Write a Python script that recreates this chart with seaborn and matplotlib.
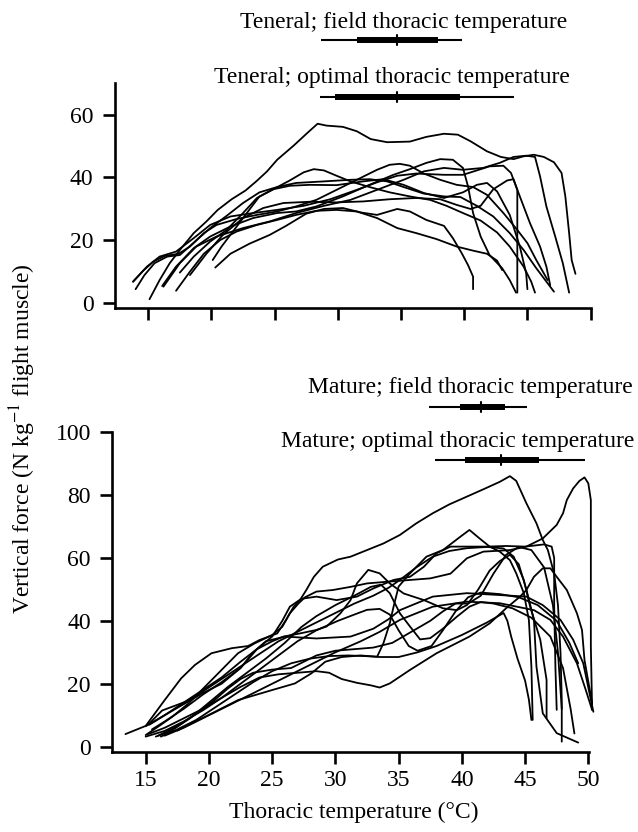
import matplotlib
matplotlib.use("Agg")
import matplotlib.pyplot as plt
import pandas as pd
import seaborn as sns

# teneral curves, (thoracic temperature, vertical force)
ten_a = [(15.1, 1.1), (15.9, 7.2), (16.7, 12.6), (17.5, 16.8), (18.6, 22.2), (19.6, 25.9), (20.5, 29.6),
         (21.6, 33.0), (22.7, 35.8), (23.6, 38.9), (24.4, 41.9), (25.2, 45.6), (26.5, 50.1), (27.6, 54.2),
         (28.4, 57.1), (29.1, 56.5), (30.4, 56.1), (31.5, 54.7), (32.6, 52.2), (33.9, 51.2), (35.7, 51.4),
         (37.0, 52.9), (38.4, 53.9), (39.5, 53.6), (40.5, 51.5), (41.8, 48.3), (42.9, 46.5), (43.9, 45.8),
         (44.7, 46.7), (45.5, 47.2), (46.3, 46.5), (47.1, 44.8), (47.7, 41.4), (48.0, 33.9), (48.3, 22.2),
         (48.5, 13.6), (48.8, 9.2)]
ten_b = [(20.3, 11.2), (21.5, 15.6), (23.0, 18.8), (24.6, 21.6), (25.9, 24.5), (27.5, 28.4), (28.9, 29.9),
         (30.4, 30.2), (31.8, 28.8), (33.1, 28.0), (34.7, 29.9), (35.7, 29.1), (37.0, 26.4), (38.4, 24.5),
         (39.1, 20.6), (39.8, 15.8), (40.3, 12.0), (40.7, 8.3), (40.7, 4.3)]
ten_c = [(17.2, 3.8), (18.3, 9.9), (19.4, 15.6), (20.7, 20.0), (22.0, 22.7), (23.6, 24.8), (25.2, 26.4),
         (26.7, 28.0), (28.3, 29.3), (29.9, 29.6), (31.5, 29.1), (33.1, 27.0), (34.7, 23.8), (36.2, 22.2),
         (37.8, 20.3), (39.4, 17.9), (40.7, 16.6), (41.8, 15.6), (42.6, 13.4), (43.0, 10.4)]
ten_d = [(18.3, 8.8), (19.6, 15.6), (20.9, 21.6), (22.5, 27.0), (24.1, 30.2), (25.7, 31.8), (27.8, 32.2),
         (29.9, 32.0), (32.0, 32.3), (34.1, 33.0), (36.2, 33.4), (38.1, 33.0), (39.4, 31.2), (40.5, 29.9),
         (41.3, 30.9), (42.3, 36.2), (43.4, 39.0), (43.9, 39.4), (44.2, 36.0), (44.2, 22.2), (44.2, 3.2)]
ten_e = [(16.1, 5.3), (17.2, 11.5), (18.6, 17.4), (19.9, 21.1), (21.5, 24.3), (23.3, 27.0), (25.2, 28.6),
         (26.7, 29.1), (28.3, 30.7), (30.4, 33.9), (32.5, 37.6), (34.4, 40.8), (35.7, 42.6), (37.0, 44.6),
         (38.1, 45.8), (39.1, 45.6), (39.9, 43.0), (40.3, 37.1), (40.7, 28.6), (41.3, 21.1), (42.0, 15.2),
         (43.0, 11.0), (43.6, 7.2), (44.1, 3.2)]
ten_f = [(13.8, 6.7), (14.6, 10.2), (15.4, 13.1), (16.3, 14.9), (17.4, 15.6), (18.3, 17.9), (19.4, 22.2),
         (20.4, 24.8), (22.0, 26.7), (23.6, 28.0), (25.2, 29.1), (26.7, 30.7), (28.3, 32.8), (29.9, 36.0),
         (31.5, 39.2), (33.1, 42.4), (34.1, 44.0), (34.9, 44.3), (35.7, 43.7), (36.8, 41.2), (38.1, 39.2),
         (39.4, 37.6), (40.7, 36.9), (41.8, 34.4), (43.1, 28.6), (44.2, 23.2), (45.0, 19.0), (45.7, 13.6),
         (46.6, 7.2)]
ten_g = [(17.5, 9.6), (18.6, 14.7), (19.9, 19.5), (21.2, 23.2), (22.5, 28.6), (23.6, 33.4), (24.9, 36.2),
         (26.2, 39.0), (27.3, 41.6), (28.1, 42.6), (28.9, 42.2), (29.9, 40.5), (31.0, 38.7), (32.5, 36.9),
         (34.1, 35.2), (35.7, 33.9), (37.3, 32.8), (38.6, 30.9), (39.9, 28.6), (41.3, 26.2), (42.6, 22.4),
         (43.6, 17.9), (44.7, 11.5), (45.3, 6.7), (45.6, 3.2)]
ten_h = [(14.0, 4.3), (14.7, 8.8), (15.5, 12.6), (16.5, 14.7), (17.5, 15.2), (18.7, 19.5), (19.9, 23.8),
         (21.2, 27.7), (22.5, 31.8), (23.8, 35.2), (25.2, 36.9), (26.7, 38.2), (28.9, 38.7), (31.0, 39.2),
         (32.5, 39.4), (33.9, 38.7), (35.2, 36.9), (36.8, 34.8), (38.4, 33.9), (39.7, 33.7), (41.0, 30.9),
         (42.3, 27.5), (43.6, 22.2), (44.7, 16.8), (45.7, 11.0), (47.1, 3.5)]
ten_i = [(20.1, 13.6), (20.8, 17.9), (21.7, 22.7), (22.8, 28.6), (23.8, 33.9), (24.9, 36.2), (26.2, 37.3),
         (27.8, 37.6), (29.9, 37.5), (32.0, 38.7), (33.6, 39.4), (35.2, 37.6), (36.8, 35.0), (38.4, 33.4),
         (39.9, 35.2), (41.0, 37.6), (41.8, 38.2), (42.6, 35.5), (43.6, 28.0), (44.4, 17.9), (44.9, 9.4),
         (45.0, 4.3)]
ten_j = [(13.8, 6.7), (14.9, 11.5), (15.9, 14.7), (17.2, 16.3), (18.6, 20.6), (19.9, 24.8), (21.5, 27.5),
         (23.3, 28.6), (25.2, 29.6), (27.3, 30.9), (29.4, 33.0), (31.5, 36.0), (33.1, 38.4), (34.7, 40.5),
         (36.2, 41.2), (38.4, 40.8), (39.9, 40.8), (41.0, 42.2), (42.0, 43.5), (43.1, 43.7), (43.7, 41.4),
         (44.4, 33.9), (45.2, 25.4), (46.0, 17.9), (46.5, 11.5), (46.8, 5.6)]
ten_k = [(16.2, 5.1), (17.5, 12.6), (18.8, 17.9), (20.4, 21.1), (22.5, 23.8), (24.6, 25.9), (26.7, 28.6),
         (28.9, 30.9), (31.0, 32.8), (33.1, 36.0), (35.2, 39.2), (36.8, 41.9), (38.4, 43.0), (39.9, 42.4),
         (41.5, 43.0), (42.8, 44.6), (43.9, 46.5), (44.9, 46.9), (45.6, 46.5), (46.0, 40.3), (46.5, 30.7),
         (47.2, 21.1), (47.8, 12.6), (48.3, 3.2)]

# mature curves
mat_a = [(13.4, 4.0), (15.0, 6.6), (16.5, 14.8), (17.8, 21.7), (18.9, 26.0), (20.2, 29.7), (21.8, 31.3),
         (23.1, 32.0), (24.0, 33.9), (25.4, 36.0), (26.1, 40.3), (26.7, 44.5), (27.2, 46.6), (27.7, 49.8),
         (28.3, 54.0), (29.0, 57.2), (30.2, 59.5), (31.2, 60.4), (32.5, 62.5), (33.8, 64.6), (35.1, 67.3),
         (36.4, 71.0), (37.7, 74.2), (39.0, 77.0), (40.4, 79.5), (41.8, 82.0), (43.0, 84.2), (43.8, 86.0),
         (44.3, 84.5), (45.1, 77.4), (45.9, 71.0), (46.4, 65.7), (46.8, 62.5), (47.3, 55.0), (47.6, 45.0),
         (47.8, 30.0), (47.9, 15.0), (47.9, 1.6)]
mat_b = [(15.0, 3.7), (16.0, 6.4), (17.1, 9.5), (18.4, 13.8), (19.7, 19.1), (21.0, 24.4), (22.3, 29.7),
         (23.6, 32.8), (25.0, 35.5), (25.8, 38.1), (26.4, 42.4), (27.1, 45.6), (27.6, 47.5), (28.5, 49.3),
         (29.8, 49.8), (31.2, 50.8), (32.5, 51.9), (34.3, 52.5), (35.9, 53.0), (37.5, 53.5), (39.1, 55.0),
         (40.4, 59.9), (41.7, 62.0), (43.8, 62.5), (45.1, 63.6), (46.4, 66.2), (47.5, 70.5), (48.0, 74.2),
         (48.3, 78.4), (48.8, 82.1), (49.3, 84.5), (49.7, 85.6), (50.0, 83.7), (50.2, 78.4), (50.2, 53.0),
         (50.2, 31.8), (50.3, 11.7)]
mat_c = [(16.2, 3.2), (17.5, 5.5), (19.0, 8.5), (20.5, 12.5), (22.0, 16.5), (23.5, 20.5), (25.0, 24.0),
         (26.5, 26.5), (28.0, 28.0), (29.5, 28.8), (31.0, 29.0), (32.3, 28.8), (33.3, 28.6), (33.8, 32.9),
         (34.3, 39.2), (34.6, 44.5), (35.0, 50.9), (35.9, 55.1), (37.2, 60.4), (38.5, 62.5), (39.9, 66.8),
         (40.6, 68.9), (41.4, 66.2), (42.2, 63.6), (43.0, 62.0), (43.8, 59.3), (44.3, 55.1), (44.9, 48.8),
         (45.3, 40.3), (45.5, 25.4), (45.6, 8.5)]
mat_d = [(15.5, 5.5), (16.5, 8.0), (18.0, 12.0), (19.5, 16.5), (21.0, 20.5), (22.5, 25.0), (23.8, 31.0),
         (25.0, 35.0), (25.8, 40.0), (26.4, 44.5), (27.3, 47.0), (28.5, 47.7), (30.1, 46.6), (31.7, 47.7),
         (33.0, 50.3), (34.6, 53.0), (35.9, 54.0), (37.0, 57.2), (38.0, 61.5), (39.1, 63.6), (40.6, 63.6),
         (42.0, 63.6), (43.5, 63.8), (45.0, 63.6), (46.5, 64.3), (47.1, 63.6), (47.3, 60.0), (47.3, 45.0),
         (47.4, 25.0), (47.5, 11.7)]
mat_e = [(15.2, 7.0), (16.3, 11.5), (17.3, 13.0), (18.3, 14.5), (19.5, 17.5), (21.0, 21.5), (22.5, 25.5),
         (24.0, 29.5), (25.5, 33.5), (27.0, 36.5), (28.5, 39.5), (30.0, 42.5), (31.5, 45.5), (33.0, 48.0),
         (34.2, 50.5), (35.1, 53.0), (36.4, 57.0), (37.7, 60.4), (39.0, 62.2), (40.4, 63.1), (42.0, 63.5),
         (43.3, 63.0), (44.1, 60.4), (44.9, 53.0), (45.4, 44.5), (46.2, 34.0), (46.7, 21.2), (46.7, 9.0)]
mat_f = [(15.2, 4.0), (16.5, 6.0), (18.0, 9.0), (19.5, 12.0), (21.0, 15.5), (22.5, 19.0), (24.0, 22.0),
         (25.5, 23.0), (27.0, 23.5), (28.5, 24.0), (29.5, 23.5), (30.5, 21.5), (31.7, 20.3), (32.8, 19.5),
         (33.5, 18.8), (34.3, 20.1), (35.9, 24.4), (38.0, 29.7), (40.6, 35.0), (42.2, 39.2), (43.5, 44.0),
         (44.6, 47.7), (45.1, 49.8), (45.7, 54.0), (46.4, 56.7), (47.0, 56.7), (47.5, 54.0), (48.3, 49.8),
         (49.1, 42.4), (49.5, 37.1), (49.7, 27.5), (50.3, 13.8)]
mat_g = [(17.5, 5.1), (19.7, 9.5), (22.3, 14.8), (25.0, 18.0), (26.8, 20.1), (28.1, 23.3), (29.2, 27.0),
         (30.5, 28.5), (32.0, 29.0), (33.5, 28.5), (35.0, 28.5), (36.5, 30.0), (38.0, 32.0), (40.0, 35.5),
         (42.0, 39.5), (43.3, 42.5), (43.6, 40.0), (43.9, 35.0), (44.4, 28.0), (45.0, 21.0), (45.3, 15.0),
         (45.5, 8.5)]
mat_h = [(15.0, 3.2), (16.5, 5.0), (18.0, 8.0), (19.5, 11.5), (21.0, 15.5), (22.5, 20.0), (24.0, 24.5),
         (25.5, 29.0), (27.0, 33.5), (28.5, 37.0), (30.2, 40.0), (31.5, 42.0), (32.5, 43.5), (33.5, 43.8),
         (34.3, 42.0), (35.0, 37.0), (35.8, 32.0), (36.5, 30.5), (37.6, 32.0), (38.5, 37.0), (39.5, 43.0),
         (40.5, 47.5), (41.5, 49.0), (43.0, 48.5), (44.5, 47.5), (46.0, 45.0), (47.5, 40.0), (48.5, 33.0),
         (49.2, 26.5)]
mat_i = [(16.5, 3.5), (18.0, 6.0), (20.0, 10.0), (22.0, 14.0), (24.0, 18.0), (26.0, 22.0), (28.0, 26.0),
         (30.0, 30.0), (32.0, 33.5), (33.5, 36.5), (35.1, 40.3), (37.7, 44.5), (40.4, 46.1), (43.0, 45.6),
         (45.7, 43.4), (47.0, 40.3), (48.0, 35.0), (49.1, 26.5), (49.8, 18.0), (50.3, 11.7)]
mat_j = [(15.0, 6.5), (16.5, 10.0), (18.0, 13.5), (19.5, 17.0), (21.0, 20.0), (22.5, 25.0), (23.5, 30.0),
         (24.5, 33.5), (26.0, 35.0), (28.5, 34.4), (31.2, 35.0), (33.0, 37.5), (34.2, 40.5), (35.1, 43.4),
         (37.7, 47.7), (40.4, 48.8), (43.0, 48.2), (45.1, 47.7), (46.4, 45.0), (47.8, 40.3), (48.8, 34.0),
         (49.6, 26.5), (50.4, 11.1)]
mat_k = [(15.3, 7.0), (16.5, 10.0), (18.0, 14.0), (19.5, 18.0), (21.0, 22.0), (22.5, 27.0), (23.8, 31.0),
         (25.0, 33.5), (25.9, 35.0), (27.2, 36.0), (28.5, 37.1), (29.3, 38.2), (30.4, 42.4), (31.2, 46.6),
         (31.7, 51.9), (32.6, 56.2), (33.5, 55.1), (34.3, 51.9), (35.4, 48.7), (37.0, 46.6), (38.5, 44.0),
         (39.6, 43.4), (40.4, 45.0), (41.3, 50.0), (42.2, 56.0), (43.0, 59.0), (43.8, 61.0), (44.5, 58.0),
         (45.1, 50.0), (45.7, 40.3), (45.9, 25.4), (46.4, 10.6), (47.5, 4.3), (49.2, 1.3)]
mat_l = [(15.8, 3.2), (17.0, 5.0), (18.5, 9.0), (20.0, 14.0), (21.5, 19.0), (23.0, 23.5), (24.5, 28.0),
         (26.0, 33.0), (27.3, 38.0), (28.5, 41.5), (30.0, 45.0), (31.5, 48.0), (32.8, 50.8), (33.6, 51.5),
         (34.3, 48.8), (35.1, 42.4), (35.9, 38.2), (36.7, 34.1), (37.5, 34.5), (38.5, 37.5), (39.6, 41.3),
         (40.6, 44.5), (41.5, 46.0), (42.5, 45.5), (44.0, 44.0), (45.5, 41.0), (47.0, 35.0), (48.0, 25.0),
         (48.6, 12.0), (48.9, 4.2)]
mat_m = [(16.0, 3.5), (17.5, 6.5), (19.0, 10.5), (20.5, 15.0), (21.5, 18.5), (22.5, 21.5), (23.5, 23.5),
         (25.0, 24.5), (26.5, 25.0), (27.5, 27.0), (28.5, 29.0), (30.0, 30.5), (31.5, 31.0), (33.0, 31.5),
         (34.5, 33.0), (36.0, 36.5), (37.5, 40.0), (38.5, 43.0), (39.5, 45.5), (40.5, 45.5), (41.5, 48.0),
         (42.5, 55.0), (43.5, 61.0), (44.5, 63.5), (45.5, 62.5), (46.5, 57.0), (47.2, 45.0), (47.6, 30.0),
         (47.9, 12.0)]

teneral_curves = [ten_a, ten_b, ten_c, ten_d, ten_e, ten_f, ten_g, ten_h, ten_i, ten_j, ten_k]
mature_curves = [mat_a, mat_b, mat_c, mat_d, mat_e, mat_f, mat_g, mat_h, mat_i, mat_j, mat_k, mat_l, mat_m]

# range, quartiles and median: low, q1, median, q3, high
teneral_field = [28.66, 31.49, 34.65, 37.94, 39.84]
teneral_optimal = [28.58, 29.77, 34.65, 39.66, 43.93]
mature_field = [37.40, 39.85, 41.51, 43.41, 45.12]
mature_optimal = [37.88, 40.25, 43.07, 46.12, 49.74]

x_ticks = [15, 20, 25, 30, 35, 40, 45, 50]
top_yticks = [0, 20, 40, 60]
bot_yticks = [0, 20, 40, 60, 80, 100]


def to_frame(curves):
    rows = []
    for n, c in enumerate(curves):
        for t, f in c:
            rows.append({"curve": n, "temp": t, "force": f})
    return pd.DataFrame(rows)


def box_bar(ax, vals, y, dy):
    lo, q1, med, q3, hi = vals
    ax.plot([lo, hi], [y, y], color="black", lw=1.5, clip_on=False, solid_capstyle="butt")
    ax.plot([q1, q3], [y, y], color="black", lw=4.3, clip_on=False, solid_capstyle="butt")
    ax.plot([med, med], [y - dy, y + dy], color="black", lw=1.5, clip_on=False)


sns.set_theme(style="ticks")
plt.rcParams["font.family"] = ["Liberation Serif", "DejaVu Serif"]
plt.rcParams["mathtext.fontset"] = "stix"
plt.rcParams["lines.solid_joinstyle"] = "round"
# seaborn greys the text, the original is plain black
for key in ["text.color", "axes.labelcolor", "xtick.color", "ytick.color", "axes.edgecolor"]:
    plt.rcParams[key] = "black"

fig = plt.figure(figsize=(6.38, 8.32), dpi=100)
ax_top = fig.add_axes([0.18025, 0.62945, 0.75737, 0.27043])
ax_bot = fig.add_axes([0.17602, 0.09651, 0.7580, 0.38413])

sns.lineplot(data=to_frame(teneral_curves), x="temp", y="force", units="curve", estimator=None,
             sort=False, color="black", lw=1.3, legend=False, ax=ax_top)
sns.lineplot(data=to_frame(mature_curves), x="temp", y="force", units="curve", estimator=None,
             sort=False, color="black", lw=1.3, legend=False, ax=ax_bot)

ax_top.set_xlim(12.37, 50.6)
ax_top.set_ylim(-1.8, 70)
ax_bot.set_xlim(12.36, 50.6)
ax_bot.set_ylim(-1.6, 100)

for ax, yt in [(ax_top, top_yticks), (ax_bot, bot_yticks)]:
    sns.despine(ax=ax)
    ax.set_xticks(x_ticks)
    ax.set_yticks(yt)
    ax.spines["bottom"].set_bounds(ax.get_xlim()[0], 50.05)
    for s in ["left", "bottom"]:
        ax.spines[s].set_linewidth(1.9)
        ax.spines[s].set_color("black")
    ax.tick_params(axis="both", direction="out", length=8.4, width=1.9, labelsize=17, colors="black")
    ax.tick_params(axis="x", pad=4.5)
    ax.tick_params(axis="y", pad=7)
    ax.set_xlabel("")
    ax.set_ylabel("")

ax_top.tick_params(axis="x", labelbottom=False)

box_bar(ax_top, teneral_field, 83.8, 1.6)
box_bar(ax_top, teneral_optimal, 65.6, 1.6)
box_bar(ax_bot, mature_field, 108.1, 1.6)
box_bar(ax_bot, mature_optimal, 91.1, 1.6)

ax_top.text(35.21, 87.7, "Teneral; field thoracic temperature", ha="center", va="baseline",
            fontsize=17, color="black", clip_on=False)
ax_top.text(34.26, 70.1, "Teneral; optimal thoracic temperature", ha="center", va="baseline",
            fontsize=17, color="black", clip_on=False)
ax_bot.text(40.64, 112.3, "Mature; field thoracic temperature", ha="center", va="baseline",
            fontsize=17, color="black", clip_on=False)
ax_bot.text(39.66, 95.4, "Mature; optimal thoracic temperature", ha="center", va="baseline",
            fontsize=17, color="black", clip_on=False)

ax_bot.set_xlabel("Thoracic temperature (°C)", fontsize=17, labelpad=8, color="black")
fig.text(0.0353, 0.4724, r"Vertical force (N kg$^{-1}$ flight muscle)", rotation=90,
         ha="center", va="center", fontsize=17, color="black")

fig.savefig("out.png", dpi=100)
